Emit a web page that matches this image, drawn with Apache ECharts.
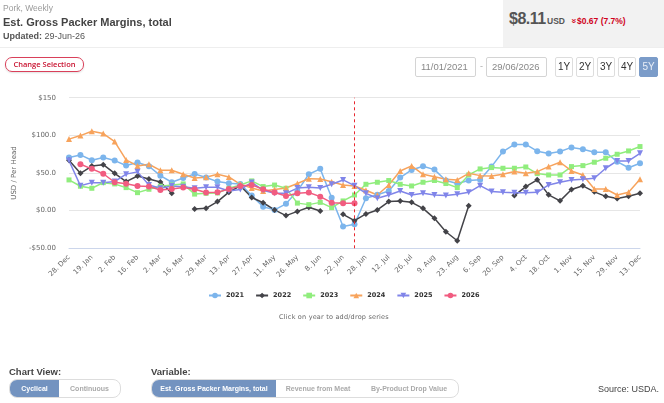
<!DOCTYPE html>
<html>
<head>
<meta charset="utf-8">
<script src="https://cdn.jsdelivr.net/npm/echarts@6/dist/echarts.min.js"></script>
<style>
  body { margin: 0; width: 664px; height: 403px; overflow: hidden; background: #fff; font-family: "Liberation Sans", Arial, sans-serif; position: relative; }
  #pic1 { position: absolute; left: 0; top: 0; width: 664px; height: 403px; z-index: 0; }
  .abs { position: absolute; z-index: 2; white-space: nowrap; }
  .price-box { left: 503px; top: 0; width: 161px; height: 47px; background: #f2f2f2; }
  .sep { left: 0; top: 47px; width: 664px; height: 1px; background: #eee; }
  .inp { height: 18px; border: 1px solid #d4d4d4; border-radius: 2px; font-size: 9.5px; color: #888; line-height: 18px; padding-left: 5px; box-sizing: content-box; }
  .yb { top: 57px; height: 18px; border: 1px solid #ddd; border-radius: 2px; font-size: 10px; color: #333; line-height: 18px; text-align: center; background: #fff; }
  .seg { top: 379px; height: 17px; border: 1px solid #ddd; border-radius: 8px; overflow: hidden; display: flex; font-size: 7px; font-weight: bold; color: #aaa; line-height: 17px; }
  .seg div { text-align: center; }
  .seg .on { background: #7393c0; color: #fff; }
</style>
</head>
<body>
<div id="pic1"></div>

<div class="abs" style="left:3px;top:3px;font-size:8.5px;color:#9a9a9a;">Pork, Weekly</div>
<div class="abs" style="left:3px;top:16px;font-size:11px;font-weight:bold;color:#444;">Est. Gross Packer Margins, total</div>
<div class="abs" style="left:3px;top:31px;font-size:9px;color:#555;"><b>Updated:</b> 29-Jun-26</div>

<div class="abs price-box"></div>
<div class="abs" style="left:509px;top:10px;font-size:16px;font-weight:bold;color:#555;letter-spacing:-0.5px;">$8.11</div>
<div class="abs" style="left:547px;top:16px;font-size:8.5px;font-weight:bold;color:#555;">USD</div>
<div class="abs" style="left:571px;top:16px;font-size:8.5px;font-weight:bold;color:#d0021b;"><span style="display:inline-block;transform:rotate(90deg);font-size:9px;margin-right:1px;">&raquo;</span>$0.67 (7.7%)</div>
<div class="abs sep"></div>

<div class="abs" style="left:5px;top:57px;width:77px;height:13px;border:1px solid #d9405a;border-radius:7px;box-shadow:0 1px 2px rgba(0,0,0,0.12);font-family:'Open Sans',sans-serif;font-size:7.5px;font-weight:600;color:#c8102e;text-align:center;line-height:13px;">Change Selection</div>

<div class="abs inp" style="left:415px;top:57px;width:54px;">11/01/2021</div>
<div class="abs" style="left:480px;top:61px;font-size:9px;color:#aaa;">-</div>
<div class="abs inp" style="left:486px;top:57px;width:54px;">29/06/2026</div>
<div class="abs yb" style="left:555px;width:16px;">1Y</div>
<div class="abs yb" style="left:576px;width:16px;">2Y</div>
<div class="abs yb" style="left:597px;width:16px;">3Y</div>
<div class="abs yb" style="left:618px;width:16px;">4Y</div>
<div class="abs yb" style="left:639px;width:17px;background:#7b9cc9;border-color:#7b9cc9;color:#e8eef7;">5Y</div>

<div class="abs" style="left:0;top:313px;width:668px;text-align:center;font-family:'DejaVu Sans',sans-serif;font-size:6.5px;color:#666;letter-spacing:0.2px;">Click on year to add/drop series</div>

<div class="abs" style="left:9px;top:366px;font-size:9.5px;font-weight:bold;color:#444;">Chart View:</div>
<div class="abs seg" style="left:9px;width:110px;">
  <div class="on" style="width:49px;">Cyclical</div>
  <div style="width:61px;">Continuous</div>
</div>
<div class="abs" style="left:151px;top:366px;font-size:9.5px;font-weight:bold;color:#444;">Variable:</div>
<div class="abs seg" style="left:151px;width:306px;">
  <div class="on" style="width:124px;">Est. Gross Packer Margins, total</div>
  <div style="width:84px;">Revenue from Meat</div>
  <div style="width:98px;">By-Product Drop Value</div>
</div>
<div class="abs" style="left:598px;top:384px;font-size:9px;color:#444;">Source: USDA.</div>

<script>
var weekLabels = ['28. Dec','12. Jan','19. Jan','26. Jan','2. Feb','9. Feb','16. Feb','23. Feb','2. Mar','9. Mar',
    '16. Mar','22. Mar','29. Mar','5. Apr','13. Apr','20. Apr','27. Apr','4. May','11. May','18. May',
    '26. May','1. Jun','8. Jun','15. Jun','22. Jun','29. Jun','28. Jun','5. Jul','12. Jul','19. Jul',
    '26. Jul','2. Aug','9. Aug','16. Aug','23. Aug','30. Aug','6. Sep','13. Sep','20. Sep','27. Sep',
    '4. Oct','11. Oct','18. Oct','25. Oct','1. Nov','8. Nov','15. Nov','22. Nov','29. Nov','6. Dec','13. Dec'];

var yTicks = [-50, 0, 50, 100, 150];
var yTickLabels = ['-$50.00', '$0.00', '$50.0', '$100.0', '$150'];

var years = ['2021', '2022', '2023', '2024', '2025', '2026'];
var colors = ['#7cb5ec', '#434348', '#90ed7d', '#f7a35c', '#8085e9', '#f15c80'];

var y2021 = [70.5, 74, 67, 70.5, 66.5, 60, 64, 59, 46.5, 37.7, 43.4, 48.8, 44, 38.6, 36.4, 35.5, 20, 5.3, 1, 9,
    26, 48.4, 55.5, 17, -21, -18, 16.5, 21, 26, 44, 54, 59, 54.5, 40, 36, 40, 41, 58.5, 78.5, 88,
    88, 79, 76, 78.5, 84, 81.5, 77.6, 77.6, 65, 57, 63];
var y2022 = [67, 49.6, 59.2, 61, 49.6, 38.6, 46, 42, 38, 23, null, 2.2, 3.1, 12, 24.5, 33, 17.5, 10.5, 1, -6.6,
    -1, 4.5, -0.4, null, -4.9, -13.3, -4.4, 0.9, 12, 12.9, 11, 3.1, -10.2, -28, -40, 6.6, null, null, null, 20,
    32, 41, 21, 13, 28, 33, 25, 19, 16, 19, 23];
var y2023 = [40.8, 32.4, 29.7, 37.2, 35.5, 30.6, 23.9, 28.4, 32.4, 34.1, 35.5, 22, 23, 23.5, 29.7, 34, 39.5, 32, 34, 29.7,
    10, 8, 11, 4, 12.9, 20.8, 35, 37.7, 40, 35, 32.8, 37.7, 40, 36, 30.6, 47.4, 55.4, 57.2, 56.3, 56.3,
    58, 49.2, 47.4, 47.4, 58.5, 59.8, 64.3, 69.6, 74.9, 79.3, 85.1];
var y2024 = [95, 99.7, 105.5, 102.4, 91.8, 67.4, 59.4, 61.6, 53.6, 53.6, 48.3, 43.4, 44.3, 48.3, 44.8, 35, 30, 26, 28, 30,
    36, 42.5, 42, 38.5, 34, 32.8, 27, 20.8, 34, 52.7, 59.4, 48.3, 45, 41.7, 40.8, 49.6, 46.5, 46, 48.3, 51.9,
    49.6, 51.9, 58.5, 64.3, 52.7, 47.4, 28.8, 28.8, 20.8, 24.4, 41.7];
var y2025 = [66.5, 33, 37.2, 37.2, 38.6, 48.5, 51.5, 34, 29.7, 32.8, 31.9, 29.8, 31, 31, 26, 28, 37.5, 27, 23, 23,
    30, 31, 30, 35, 40.8, 33.2, 23, 16.4, 20.8, 26.2, 20.8, 23, 20.8, 20, 21.7, 24.4, 33.2, 25.3, 24.4, 23.9,
    23.9, 24.4, 34.1, 37.7, 40.8, 41.7, 43, 56.3, 66, 66, 76.2];
var y2026 = [null, 61.6, 55.5, 49, 37.7, 35.7, 32.7, 32, 27.5, 28.8, 30.6, 28.5, 24.2, 24.4, 28.6, 32.8, 34.2, 28.4, 24, 19.5,
    23, 24, 18.6, 10.6, 9.8, 9.8];

var currentWeek = '29. Jun';

var pic1 = echarts.init(document.getElementById('pic1'));

var symbols = ['circle', 'diamond', 'rect', 'triangle', 'triangle', 'circle'];
var sizes = [6, 6, 5, 6, 6, 6];
var rotates = [0, 0, 0, 0, 180, 0];
var values = [y2021, y2022, y2023, y2024, y2025, y2026];

var series = years.map(function (yr, i) {
    var s = {
        name: yr,
        type: 'line',
        data: values[i],
        symbol: symbols[i],
        symbolSize: sizes[i],
        symbolRotate: rotates[i],
        showAllSymbol: true,
        lineStyle: { width: 1.5, color: colors[i] },
        itemStyle: { color: colors[i] },
        emphasis: { disabled: true }
    };
    if (yr === '2026') {
        s.markLine = {
            silent: true,
            symbol: 'none',
            label: { show: false },
            lineStyle: { color: '#e8262e', type: [3, 3], width: 1 },
            data: [{ xAxis: currentWeek }]
        };
    }
    return s;
});

var option = {
    animation: false,
    color: colors,
    grid: { left: 69, right: 24, top: 97.7, bottom: 154.7 },
    legend: {
        data: years,
        left: 203,
        top: 287,
        itemWidth: 12,
        itemHeight: 7,
        itemGap: 11,
        textStyle: { fontFamily: 'DejaVu Sans', fontSize: 6.5, fontWeight: 'bold', color: '#333' }
    },
    xAxis: {
        type: 'category',
        data: weekLabels,
        boundaryGap: false,
        axisTick: { show: false },
        axisLine: { onZero: false, lineStyle: { color: '#ccd6eb' } },
        axisLabel: {
            interval: 1,
            rotate: 45,
            fontFamily: 'DejaVu Sans',
            fontSize: 7,
            color: '#666',
            margin: 8
        },
        splitLine: { show: false }
    },
    yAxis: {
        type: 'value',
        min: -50,
        max: 150,
        interval: 50,
        name: 'USD / Per Head',
        nameLocation: 'middle',
        nameGap: 46,
        nameRotate: 90,
        nameTextStyle: { fontFamily: 'DejaVu Sans', fontSize: 7, color: '#666' },
        axisLine: { show: false },
        axisTick: { show: false },
        axisLabel: {
            fontFamily: 'DejaVu Sans',
            fontSize: 7,
            color: '#666',
            margin: 13,
            formatter: function (v) {
                var k = yTicks.indexOf(v);
                return k >= 0 ? yTickLabels[k] : '';
            }
        },
        splitLine: { lineStyle: { color: '#e6e6e6' } }
    },
    series: series
};

pic1.setOption(option);
</script>
</body>
</html>
